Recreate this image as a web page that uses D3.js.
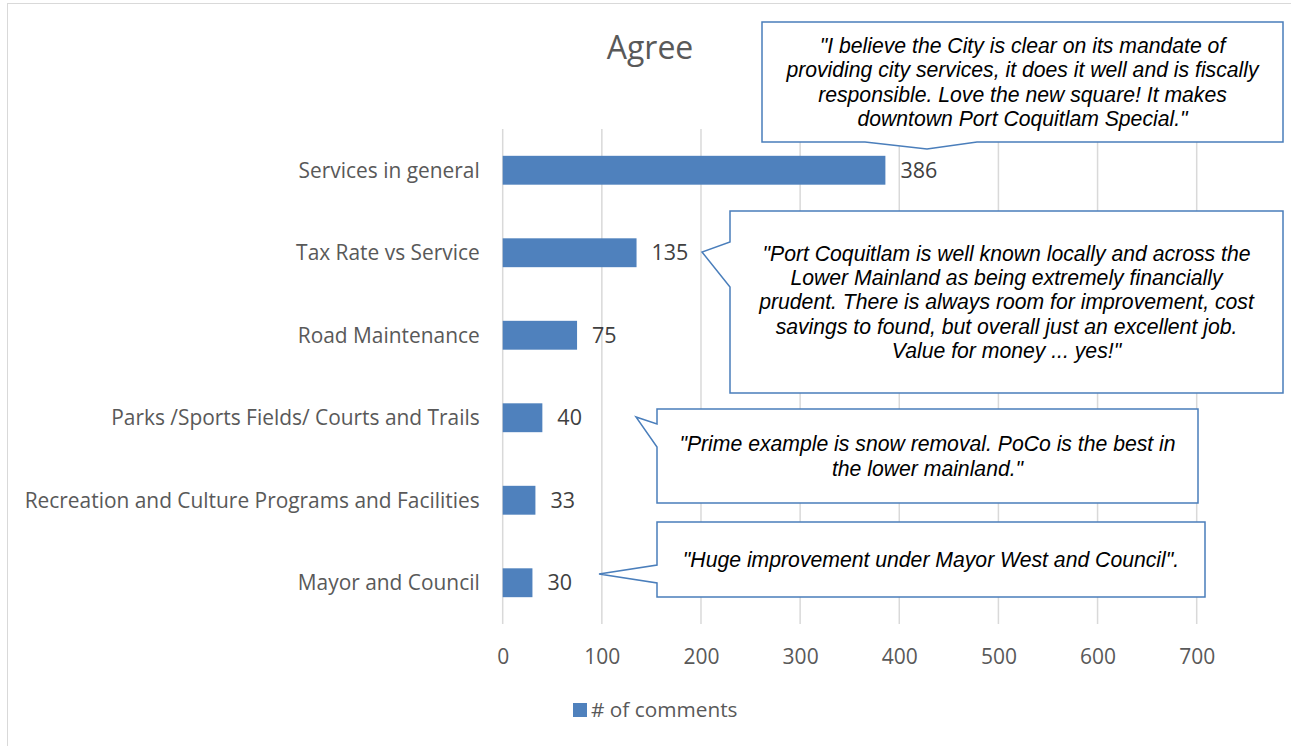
<!DOCTYPE html>
<html>
<head>
<meta charset="utf-8">
<script src="https://cdn.jsdelivr.net/npm/d3@7"></script>
<style>
  html, body { margin: 0; padding: 0; background: #fff; }
  svg { display: block; }
</style>
</head>
<body>
<svg id="chart" width="1291" height="746"></svg>
<script>
// ---- data ----
const title = "Agree";
const categories = [
  "Services in general",
  "Tax Rate vs Service",
  "Road Maintenance",
  "Parks /Sports Fields/ Courts and Trails",
  "Recreation and Culture Programs and Facilities",
  "Mayor and Council"
];
const seriesName = "# of comments";
const values = [386, 135, 75, 40, 33, 30];
const tickLabels = [0, 100, 200, 300, 400, 500, 600, 700];
const quotes = [
  ["\"I believe the City is clear on its mandate of", "providing city services, it does it well and is fiscally", "responsible. Love the new square! It makes", "downtown Port Coquitlam Special.\""],
  ["\"Port Coquitlam is well known locally and across the", "Lower Mainland as being extremely financially", "prudent. There is always room for improvement, cost", "savings to found, but overall just an excellent job.", "Value for money ... yes!\""],
  ["\"Prime example is snow removal. PoCo is the best in", "the lower mainland.\""],
  ["\"Huge improvement under Mayor West and Council\"."]
];

// ---- layout ----
const svg = d3.select("#chart");
const plot = { left: 502.7, right: 1196.7, top: 129, bottom: 624 };
const font = "'Open Sans', Lato, sans-serif";
const barColor = "#4f81bd";
const calloutColor = "#4a7ebb";

// chart border
svg.append("rect").attr("x", 7.5).attr("y", 3.5).attr("width", 1320).attr("height", 780)
  .attr("fill", "#fff").attr("stroke", "#d9d9d9").attr("stroke-width", 1);

const x = d3.scaleLinear().domain([0, 700]).range([plot.left, plot.right]);
const y = d3.scaleBand().domain(categories).range([plot.top, plot.bottom])
  .paddingInner(0.65).paddingOuter(0.325);

// gridlines
svg.append("g").selectAll("line").data(tickLabels).join("line")
  .attr("x1", d => x(d)).attr("x2", d => x(d))
  .attr("y1", plot.top).attr("y2", plot.bottom)
  .attr("stroke", "#d9d9d9").attr("stroke-width", 1.5);

// title
svg.append("text").attr("x", 650).attr("y", 59).attr("text-anchor", "middle")
  .attr("font-family", font).attr("font-size", 32).attr("fill", "#595959").text(title);

// bars
svg.append("g").selectAll("rect").data(values).join("rect")
  .attr("x", x(0)).attr("y", (d, i) => y(categories[i]))
  .attr("width", d => x(d) - x(0)).attr("height", y.bandwidth())
  .attr("fill", barColor);

// data labels
svg.append("g").selectAll("text").data(values).join("text")
  .attr("x", d => x(d) + 15).attr("y", (d, i) => y(categories[i]) + y.bandwidth() / 2)
  .attr("dy", "0.35em")
  .attr("font-family", font).attr("font-size", 21.5).attr("fill", "#404040")
  .text(d => d);

// x axis
const xAxis = svg.append("g").attr("transform", `translate(0,${plot.bottom})`)
  .call(d3.axisBottom(x).tickValues(tickLabels).tickSize(0).tickPadding(0).tickFormat(d3.format("d")));
xAxis.select(".domain").remove();
xAxis.selectAll("text").attr("y", 33).attr("dy", "0.35em")
  .attr("font-family", font).attr("font-size", 21).attr("fill", "#595959");

// y axis
const yAxis = svg.append("g").attr("transform", `translate(${plot.left},0)`)
  .call(d3.axisLeft(y).tickSize(0).tickPadding(23));
yAxis.select(".domain").remove();
yAxis.selectAll("text").attr("dy", "0.35em")
  .attr("font-family", font).attr("font-size", 20.9).attr("fill", "#595959");

// legend
const lg = svg.append("g");
lg.append("rect").attr("x", 573).attr("y", 703).attr("width", 14).attr("height", 14).attr("fill", barColor);
lg.append("text").attr("x", 591).attr("y", 710).attr("dy", "0.35em")
  .attr("font-family", font).attr("font-size", 20.8).attr("fill", "#595959").text(seriesName);

// callouts (annotation geometry)
const callouts = [
  { L: 762, T: 22, R: 1283, B: 142, pts: [[977, 142], [927, 149], [865, 142]], side: "bottom" },
  { L: 730, T: 211, R: 1283, B: 393, pts: [[730, 287], [702, 252], [730, 242]], side: "left" },
  { L: 657, T: 409, R: 1198, B: 503, pts: [[657, 447], [636, 417], [657, 424]], side: "left" },
  { L: 657, T: 522, R: 1205, B: 597, pts: [[657, 583], [599, 574], [657, 565]], side: "left" }
];
callouts.forEach((c, i) => {
  const p = d3.path();
  p.moveTo(c.L, c.T);
  p.lineTo(c.R, c.T);
  p.lineTo(c.R, c.B);
  if (c.side === "bottom") {
    c.pts.forEach(q => p.lineTo(q[0], q[1]));
    p.lineTo(c.L, c.B);
    p.closePath();
  } else {
    p.lineTo(c.L, c.B);
    c.pts.forEach(q => p.lineTo(q[0], q[1]));
    p.closePath();
  }
  svg.append("path").attr("d", p.toString()).attr("fill", "#fff")
    .attr("stroke", calloutColor).attr("stroke-width", 1.5).attr("stroke-linejoin", "miter");
  const lines = quotes[i];
  const lh = 24.3;
  const cx = (c.L + c.R) / 2, cy = (c.T + c.B) / 2;
  const t = svg.append("text").attr("text-anchor", "middle")
    .attr("font-family", "'Liberation Sans', Arial, sans-serif").attr("font-style", "italic")
    .attr("font-size", 21.2).attr("fill", "#000");
  lines.forEach((ln, k) => {
    t.append("tspan").attr("x", cx)
      .attr("y", cy + (k - (lines.length - 1) / 2) * lh).attr("dy", "0.35em").text(ln);
  });
});
</script>
</body>
</html>
